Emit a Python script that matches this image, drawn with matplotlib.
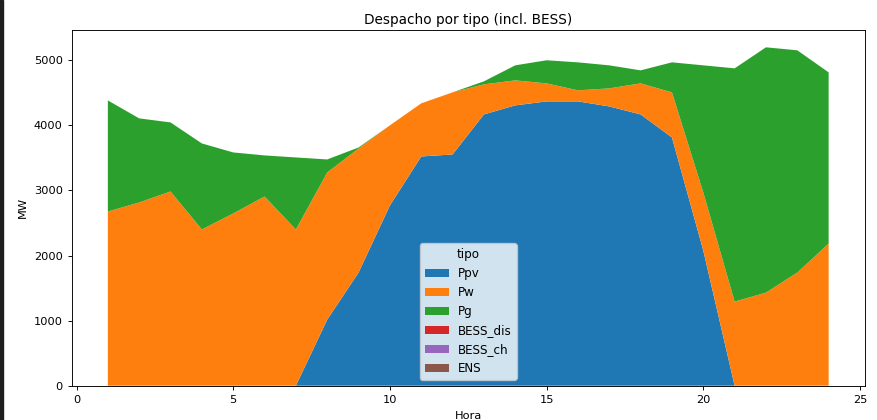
import matplotlib
matplotlib.use("Agg")
import matplotlib.pyplot as plt
import numpy as np

# Hourly dispatch (MW)
horas = list(range(1, 25))
Ppv = [0, 0, 0, 0, 0, 0, 0, 1015, 1738, 2769, 3522, 3553,
       4168, 4307, 4368, 4368, 4291, 4168, 3814, 2076, 0, 0, 0, 0]
Pw_top = [2676, 2815, 2984, 2400, 2646, 2907, 2400, 3276, 3645, 4000, 4338, 4507,
          4630, 4691, 4645, 4538, 4568, 4645, 4507, 2968, 1292, 1430, 1738, 2184]
total = [4383, 4107, 4045, 3722, 3584, 3538, 3507, 3476, 3660, 4000, 4338, 4507,
         4676, 4922, 5000, 4968, 4922, 4845, 4968, 4922, 4876, 5199, 5153, 4814]

Pw = list(np.array(Pw_top) - np.array(Ppv))
Pg = list(np.array(total) - np.array(Pw_top))
BESS_dis = [0] * 24
BESS_ch = [0] * 24
ENS = [0] * 24

tipos = ["Ppv", "Pw", "Pg", "BESS_dis", "BESS_ch", "ENS"]
colores = ["#1f77b4", "#ff7f0e", "#2ca02c", "#d62728", "#9467bd", "#8c564b"]

s = 0.82
plt.rcParams["font.size"] = 10 * s
plt.rcParams["axes.linewidth"] = 0.8 * s
for ax_name in ("xtick", "ytick"):
    plt.rcParams[ax_name + ".major.size"] = 3.5 * s
    plt.rcParams[ax_name + ".major.width"] = 0.8 * s

fig = plt.figure(figsize=(8.77, 4.2), dpi=100)
ax = fig.add_axes([71.5 / 877, 1 - 385.7 / 420, (865 - 71.5) / 877, (385.7 - 30) / 420])

ax.stackplot(horas, Ppv, Pw, Pg, BESS_dis, BESS_ch, ENS,
             labels=tipos, colors=colores, linewidth=0)

ax.set_xlim(-0.16, 25.16)
ax.set_ylim(0, 5465)
ax.set_xticks([0, 5, 10, 15, 20, 25])
ax.set_yticks([0, 1000, 2000, 3000, 4000, 5000])
ax.set_title("Despacho por tipo (incl. BESS)", pad=5.5 * s)
ax.set_xlabel("Hora", labelpad=6 * s)
ax.set_ylabel("MW", labelpad=5.5 * s)
ax.legend(title="tipo", loc="lower center", fontsize=8.6, title_fontsize=8.6,
          labelspacing=0.5)

# dark strip at left edge of the screenshot
fig.patches.append(plt.Rectangle((0, 0), 3 / 877, 1, transform=fig.transFigure,
                                 color="#1e1e1e", zorder=10))

fig.savefig("out.png", dpi=100)
